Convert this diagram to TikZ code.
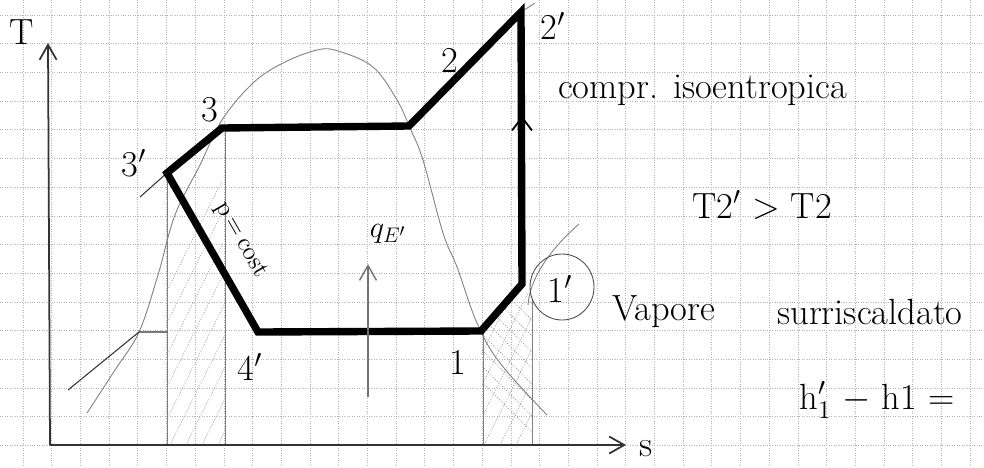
\documentclass[tikz,border=0pt]{standalone}
\usepackage{amsmath}
\usetikzlibrary{arrows.meta}

\begin{document}
\begin{tikzpicture}[x=0.02cm, y=-0.02cm,
    gridline/.style={densely dotted, gray!60, line width=0.4pt},
    axis/.style={line width=1pt, black!80, -{Straight Barb[length=3mm,width=3.4mm]}},
    cyclepath/.style={line width=4.2pt, black, line join=miter},
    thinline/.style={gray, line width=0.5pt},
    hatch/.style={densely dotted, gray!80, line width=0.45pt},
    hand/.style={font=\huge, inner sep=1pt}]

    \useasboundingbox (0,0) rectangle (984,467);

    % graph paper
    \foreach \i in {0,...,33}
        \draw[gridline] (23+28.7*\i,0) -- (23+28.7*\i,467);
    \foreach \j in {0,...,15}
        \draw[gridline] (0,15+28.7*\j) -- (984,15+28.7*\j);

    % state points
    \coordinate (o) at (50,445);
    \coordinate (p1) at (481,331);
    \coordinate (p1p) at (522,284);
    \coordinate (p2p) at (521,12);
    \coordinate (dew) at (409,126);
    \coordinate (p3) at (222,128);
    \coordinate (p3p) at (167,173);
    \coordinate (p4p) at (258,332);

    % hatched areas
    \begin{scope}
        \clip (p3p) -- (p3) -- (225,445) -- (167,445) -- cycle;
        \foreach \k in {0,...,14}
            \draw[hatch] (90+16*\k,445) -- ++(160,-320);
    \end{scope}
    \begin{scope}
        \clip (p1) -- (p1p) -- (532,300) -- (532,445) -- (483,445) -- cycle;
        \foreach \k in {0,...,9}
            \draw[hatch] (420+16*\k,445) -- ++(130,-260);
        \foreach \k in {0,...,9}
            \draw[hatch] (400+16*\k,300) -- ++(150,150);
    \end{scope}
    \draw[thinline] (p3p) -- (p3p |- o);
    \draw[thinline] (225,130) -- (225,445);
    \draw[thinline] (483,333) -- (483,445);
    \draw[thinline] (532,300) -- (532,445);

    % saturation dome
    \draw[thinline] plot[smooth, tension=0.6] coordinates {(87,413) (115,370) (139,332)
        (158,275) (175,215) (200,165) (222,120) (253,83) (283,63) (317,50) (338,51)
        (373,67) (397,100) (410,128) (423,160) (443,233) (457,267) (477,323)
        (500,363) (547,415)};

    % isobars
    \draw[black!80, line width=0.6pt] (68,390) -- (139,332) -- (167,332);
    \draw[black!80, line width=0.6pt] (p3p) -- (140,197);
    \draw[thinline] (528,305) .. controls (530,275) and (555,245) .. (579,224);
    \draw[thinline] (p2p) -- (535,3);

    % axes
    \draw[axis] (o) -- (48,43);
    \draw[axis] (o) -- (626,445);
    \node[hand] (tlab) at (22,32) {T};
    \node[hand, inner sep=0pt] (slab) at (646,449) {s};

    % cycle
    \draw[cyclepath] (p4p) -- (p1) -- (p1p) -- (p2p) -- (dew) -- (p3) -- (p3p) -- cycle;
    \coordinate (midarr) at (522,116);
    \draw[black, line width=1pt, -{Straight Barb[length=2.6mm,width=4mm]}] (522,145) -- (midarr);

    % heat input
    \coordinate (qbot) at (368,397);
    \coordinate (qtop) at (368,264);
    \draw[gray!90!black, line width=0.8pt, -{Straight Barb[length=3mm,width=3.4mm]}] (qbot) -- (qtop);
    \node[hand, font=\LARGE] (qlab) at (388,234) {$q_{E'}$};

    % point labels
    \node[hand] (l3) at (210,110) {3};
    \node[hand] (l3p) at (134,163) {3$'$};
    \node[hand] (l4p) at (250,367) {4$'$};
    \node[hand] (l1) at (458,362) {1};
    \node[hand] (l1p) at (560,289) {1$'$};
    \node[hand] (l2) at (450,60) {2};
    \node[hand] (l2p) at (553,26) {2$'$};
    \draw[thinline, black!70] (562,287) ellipse [x radius=32, y radius=33];
    \node[hand, font=\Large, rotate=-60, inner sep=0pt] (pcost) at (241,240) {p\,=\,cost};

    % notes
    \node[hand, anchor=west] (compr) at (556,90) {compr. isoentropica};
    \node[hand] (tcomp) at (762,205) {T2$'$ $>$ T2};
    \node[hand, anchor=west] (vap) at (610,312) {Vapore};
    \node[hand] (surr) at (870,312) {surriscaldato};
    \node[hand] (hdiff) at (877,400) {h$'_1$ $-$ h1 $=$};
\end{tikzpicture}
\end{document}
